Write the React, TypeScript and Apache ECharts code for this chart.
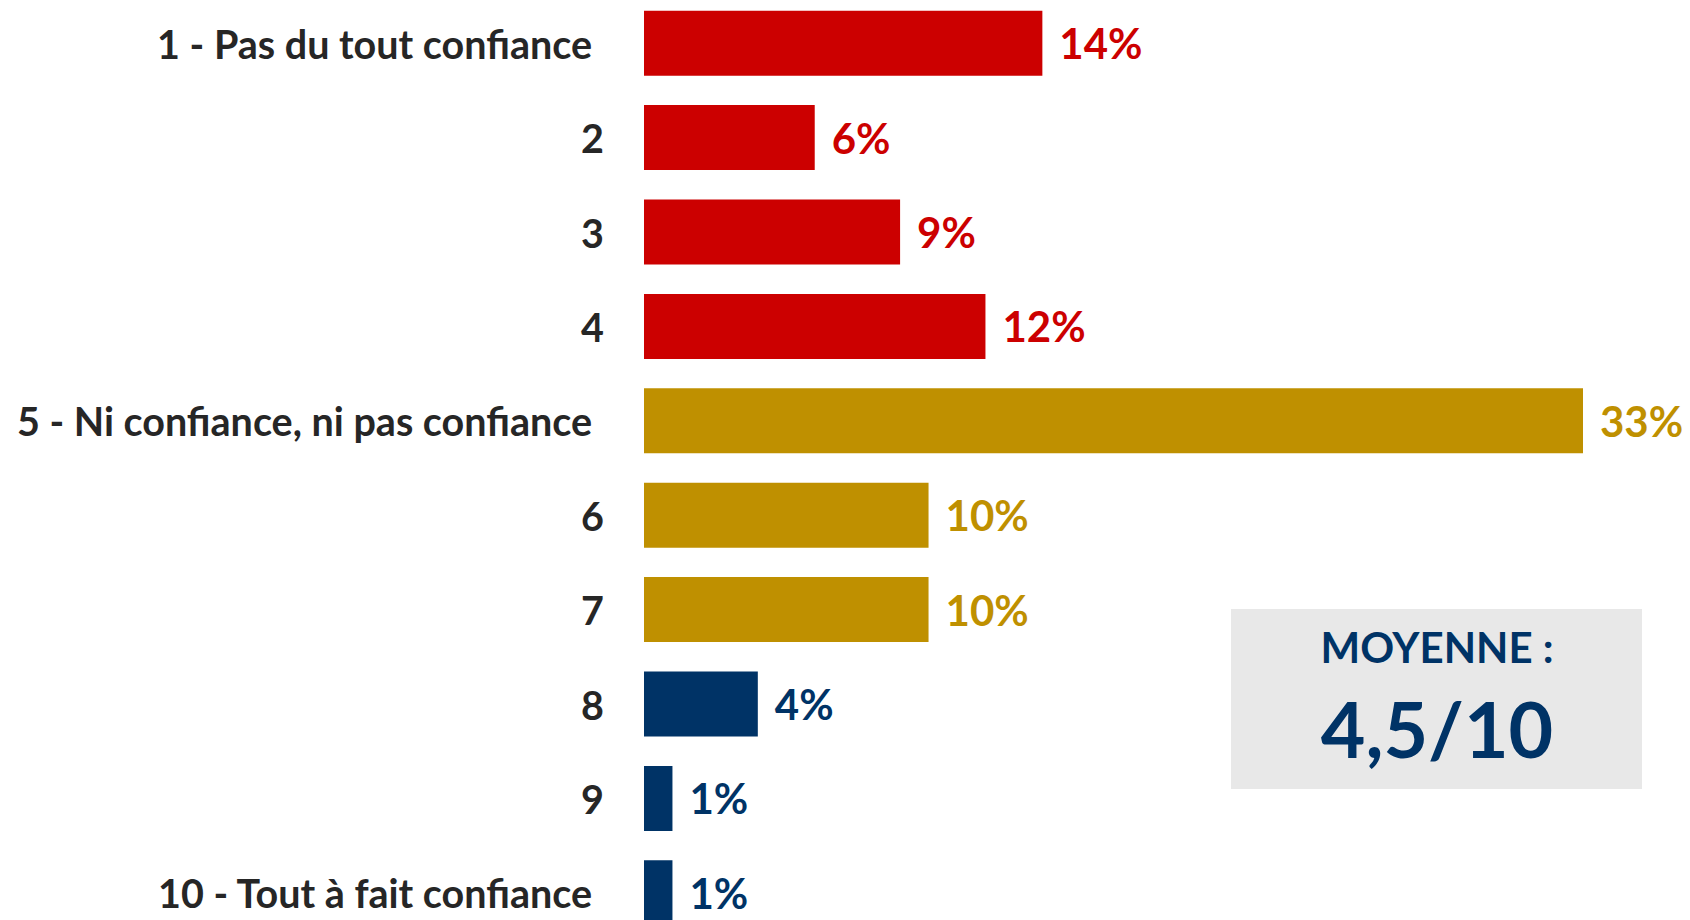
import React, { useEffect, useRef } from "react";
import * as echarts from "echarts";

const categories = [
  "1 - Pas du tout confiance",
  "2",
  "3",
  "4",
  "5 - Ni confiance, ni pas confiance",
  "6",
  "7",
  "8",
  "9",
  "10 - Tout à fait confiance",
];
const values = [14, 6, 9, 12, 33, 10, 10, 4, 1, 1];
const barColors = [
  "#CC0000", "#CC0000", "#CC0000", "#CC0000",
  "#BF9000", "#BF9000", "#BF9000",
  "#003366", "#003366", "#003366",
];
const meanTitle = "MOYENNE :";
const meanValue = "4,5/10";

const FONT = "Lato, 'Open Sans', sans-serif";
const OFFSET = -4;

export default function App() {
  const ref = useRef<HTMLDivElement>(null);
  useEffect(() => {
    if (!ref.current) return;
    const chart = echarts.init(ref.current, null, { renderer: "svg" });
    chart.setOption({
      animation: false,
      backgroundColor: "#FFFFFF",
      grid: { left: 644, right: 107, top: 0, bottom: 0, containLabel: false },
      xAxis: {
        type: "value",
        min: 0,
        max: 33,
        show: false,
      },
      yAxis: {
        type: "category",
        data: categories,
        inverse: true,
        axisLine: { show: false },
        axisTick: { show: false },
        splitLine: { show: false },
        axisLabel: {
          margin: 40,
          formatter: (v: string) => (v.length > 2 ? `{l|${v}}` : `{s|${v}}`),
          rich: {
            l: {
              fontSize: 39.5,
              fontWeight: "bold",
              fontFamily: FONT,
              color: "#262626",
              padding: [0, 12, 0, 0],
            },
            s: {
              fontSize: 39.5,
              fontWeight: "bold",
              fontFamily: FONT,
              color: "#262626",
            },
          },
        },
      },
      series: [
        {
          type: "bar",
          barWidth: 65,
          data: values.map((v, i) => ({
            value: v,
            itemStyle: { color: barColors[i] },
            label: { color: barColors[i] },
          })),
          label: {
            show: true,
            position: "right",
            distance: 17,
            formatter: "{c}%",
            fontSize: 42,
            fontWeight: "bold",
            fontFamily: FONT,
          },
        },
      ],
      graphic: [
        {
          type: "rect",
          shape: { x: 1231, y: 609 - OFFSET, width: 411, height: 180 },
          style: { fill: "#E8E8E8" },
          z: 10,
        },
        {
          type: "text",
          x: 1437,
          y: 647 - OFFSET,
          style: {
            text: meanTitle,
            fill: "#003366",
            fontSize: 42,
            fontWeight: "bold",
            fontFamily: FONT,
            align: "center",
            verticalAlign: "middle",
          },
          z: 11,
        },
        {
          type: "text",
          x: 1437,
          y: 728 - OFFSET,
          style: {
            text: meanValue,
            fill: "#003366",
            fontSize: 77,
            fontWeight: "bold",
            fontFamily: FONT,
            align: "center",
            verticalAlign: "middle",
          },
          z: 11,
        },
      ],
    });
    return () => chart.dispose();
  }, []);
  return (
    <div
      style={{ position: "absolute", left: 0, top: 0, width: 1690, height: 920, overflow: "hidden", background: "#FFFFFF" }}
    >
      <div
        ref={ref}
        style={{ position: "absolute", left: 0, top: OFFSET, width: 1690, height: 944 }}
      />
    </div>
  );
}
